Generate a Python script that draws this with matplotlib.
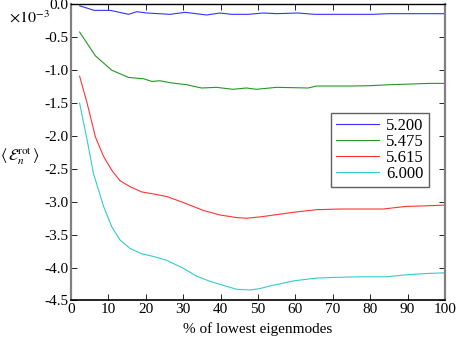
import matplotlib
matplotlib.use('Agg')
import matplotlib.pyplot as plt
from matplotlib.ticker import FormatStrFormatter, MultipleLocator

plt.rcParams['font.family'] = ['Liberation Serif', 'DejaVu Serif']
plt.rcParams['mathtext.fontset'] = 'stix'
plt.rcParams['axes.unicode_minus'] = False

# values in units of 1e-3
labels = ['5.200', '5.475', '5.615', '6.000']
colors = ['#3333ff', '#229922', '#ff3333', '#33cccc']

x_blue = [2.3, 6.2, 10.5, 15.4, 17.6, 20.3, 26.5, 30.5, 36.3, 39.8, 43.0, 47.5, 51.4,
          55.0, 60.7, 65.0, 70.5, 75.0, 80.7, 85.0, 89.5, 95.0, 99.7]
y_blue = [-0.02, -0.09, -0.09, -0.15, -0.11, -0.13, -0.15, -0.12, -0.16, -0.13, -0.15,
          -0.15, -0.13, -0.14, -0.13, -0.15, -0.15, -0.15, -0.15, -0.14, -0.14, -0.14, -0.14]

x_green = [2.3, 6.5, 10.9, 15.4, 19.4, 21.6, 23.8, 26.5, 30.9, 34.9, 38.9, 43.3, 46.9,
           49.6, 54.9, 59.4, 63.4, 65.6, 70.0, 74.5, 79.8, 85.2, 90.6, 95.9, 99.9]
y_green = [-0.42, -0.78, -1.00, -1.11, -1.13, -1.17, -1.16, -1.19, -1.22, -1.27, -1.26,
           -1.29, -1.27, -1.29, -1.26, -1.265, -1.27, -1.24, -1.24, -1.24, -1.235, -1.22,
           -1.21, -1.20, -1.20]

x_red = [2.3, 4.3, 6.5, 8.7, 10.9, 13.1, 15.8, 18.9, 22.0, 25.6, 30.0, 35.3, 39.8, 44.3,
         46.9, 50.5, 53.1, 59.4, 65.6, 71.8, 77.2, 83.4, 89.6, 95.8, 99.9]
y_red = [-1.09, -1.50, -2.01, -2.31, -2.52, -2.68, -2.77, -2.85, -2.88, -2.92, -3.01,
         -3.13, -3.20, -3.24, -3.25, -3.23, -3.21, -3.16, -3.12, -3.11, -3.11, -3.11,
         -3.07, -3.06, -3.05]

x_cyan = [2.3, 4.3, 6.0, 8.7, 10.9, 13.1, 15.8, 18.9, 22.0, 25.6, 30.0, 33.6, 37.2, 40.7,
          44.3, 47.8, 50.5, 53.1, 59.8, 65.6, 70.0, 77.2, 84.3, 89.6, 95.0, 99.9]
y_cyan = [-1.50, -2.06, -2.57, -3.07, -3.38, -3.58, -3.71, -3.79, -3.83, -3.89, -4.01,
          -4.13, -4.21, -4.27, -4.33, -4.34, -4.32, -4.28, -4.20, -4.16, -4.15, -4.14,
          -4.14, -4.11, -4.09, -4.08]

X = [x_blue, x_green, x_red, x_cyan]
Y = [y_blue, y_green, y_red, y_cyan]

fig = plt.figure(figsize=(4.57, 3.43), dpi=100)
ax = fig.add_axes([0.1554, 0.124, 0.8183, 0.863])

for i in range(4):
    ax.plot(X[i], Y[i], color=colors[i], lw=0.8, label=labels[i])

ax.set_xlim((0, 100))
ax.set_ylim((-4.5, 0))
ax.xaxis.set_major_locator(MultipleLocator(10))
ax.yaxis.set_major_locator(MultipleLocator(0.5))
ax.yaxis.set_major_formatter(FormatStrFormatter('%.1f'))
ax.tick_params(direction='in', top=True, right=True, labelsize=11, length=4, width=0.6, pad=2)

ax.spines['left'].set_color('#808080')
ax.spines['right'].set_color('#808080')
ax.spines['left'].set_linewidth(1.6)
ax.spines['right'].set_linewidth(1.6)
ax.spines['top'].set_linewidth(1.0)
ax.spines['bottom'].set_linewidth(1.2)

ax.set_xlabel('% of lowest eigenmodes', fontsize=11)
ax.set_ylabel(r'$\langle\,\mathcal{E}_n^{\rm rot}\,\rangle$', fontsize=11.5, rotation=0, va='center', ha='center')
ax.yaxis.set_label_coords(-0.137, 0.485)
ax.text(-0.056, 0.952, r'$\times10^{-3}$', transform=ax.transAxes, ha='right', va='center', fontsize=11.5)

leg = ax.legend(loc='upper right', bbox_to_anchor=(0.957, 0.633), fontsize=12, fancybox=False,
                edgecolor='#606060', framealpha=1, handlelength=2.6, labelspacing=0.0,
                borderpad=0.3, handletextpad=0.4, borderaxespad=0)
leg.get_frame().set_linewidth(1.0)

fig.savefig('out.png', dpi=100)
